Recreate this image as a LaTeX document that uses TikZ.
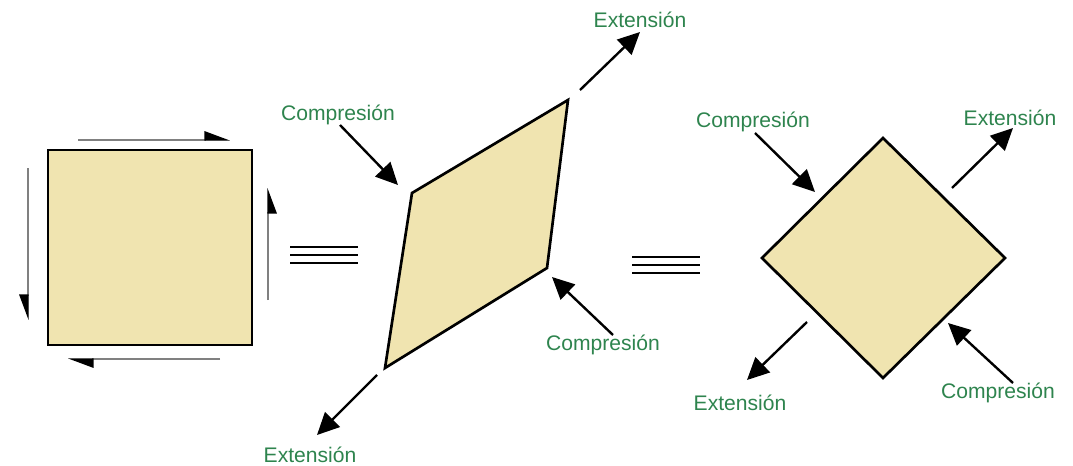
\documentclass[tikz,border=0pt]{standalone}
\usepackage{fontspec}
\setmainfont{Liberation Sans}
\usetikzlibrary{arrows.meta, positioning}
\definecolor{clay}{RGB}{240,228,176}
\definecolor{lblgreen}{RGB}{46,132,78}

\begin{document}
\begin{tikzpicture}[
      x=0.025cm, y=-0.025cm,
      plate/.style={draw, line width=1.9pt, fill=clay, line join=miter},
      lbl/.style={text=lblgreen, font=\fontsize{15}{18}\selectfont, inner sep=0pt},
      force/.style={line width=1.7pt, -{Triangle[length=0.55cm, width=0.52cm]}},
      shearl/.style={draw=black!50, line width=0.8pt, -{Triangle[left, length=0.6cm, width=0.44cm, color=black]}},
      shearr/.style={draw=black!50, line width=0.8pt, -{Triangle[right, length=0.6cm, width=0.44cm, color=black]}},
      equiv/.style={line width=1.5pt}
    ]
      \useasboundingbox (0,0) rectangle (1073,466);

      % square under shear
      \draw[plate] (48,150) rectangle (252,345);
      \coordinate (topS) at (78,140);   \coordinate (topE) at (230,140);
      \coordinate (botS) at (220,359);  \coordinate (botE) at (68,359);
      \coordinate (lftS) at (28,168);   \coordinate (lftE) at (28,320);
      \coordinate (rgtS) at (268,300);  \coordinate (rgtE) at (268,188);
      \draw[shearl] (topS) -- (topE);
      \draw[shearl] (botS) -- (botE);
      \draw[shearr] (lftS) -- (lftE);
      \draw[shearr] (rgtS) -- (rgtE);

      \foreach \dy in {0,8,16} {
        \draw[equiv] (290,247+\dy) -- (358,247+\dy);
        \draw[equiv] (632,257+\dy) -- (700,257+\dy);
      }

      % sheared parallelogram
      \draw[plate] (412,193) -- (568,100) -- (547,268) -- (385,368) -- cycle;
      \node[lbl] (pExtTop) at (640,20) {Extensión};
      \node[lbl] (pCmpLft) at (338,115) {Compresión};
      \node[lbl] (pCmpRgt) at (603,345) {Compresión};
      \node[lbl] (pExtBot) at (310,455) {Extensión};
      \coordinate (pa) at (580,90);   \coordinate (pb) at (640,32);
      \coordinate (pc) at (340,125);  \coordinate (pd) at (398,185);
      \coordinate (pe) at (613,335);  \coordinate (pf) at (552,277);
      \coordinate (pg) at (377,375);  \coordinate (ph) at (317,435);
      \draw[force] (pa) -- (pb);
      \draw[force] (pc) -- (pd);
      \draw[force] (pe) -- (pf);
      \draw[force] (pg) -- (ph);

      % rotated square
      \draw[plate] (883,138) -- (1005,258) -- (883,378) -- (762,258) -- cycle;
      \node[lbl] (dCmpTop) at (753,122) {Compresión};
      \node[lbl] (dExtTop) at (1010,118) {Extensión};
      \node[lbl] (dExtBot) at (740,403) {Extensión};
      \node[lbl] (dCmpBot) at (998,393) {Compresión};
      \coordinate (da) at (755,133);  \coordinate (db) at (815,192);
      \coordinate (dc) at (952,188);  \coordinate (dd) at (1013,128);
      \coordinate (de) at (807,322);  \coordinate (df) at (747,380);
      \coordinate (dg) at (1013,383); \coordinate (dh) at (948,323);
      \draw[force] (da) -- (db);
      \draw[force] (dc) -- (dd);
      \draw[force] (de) -- (df);
      \draw[force] (dg) -- (dh);

    \end{tikzpicture}
\end{document}
